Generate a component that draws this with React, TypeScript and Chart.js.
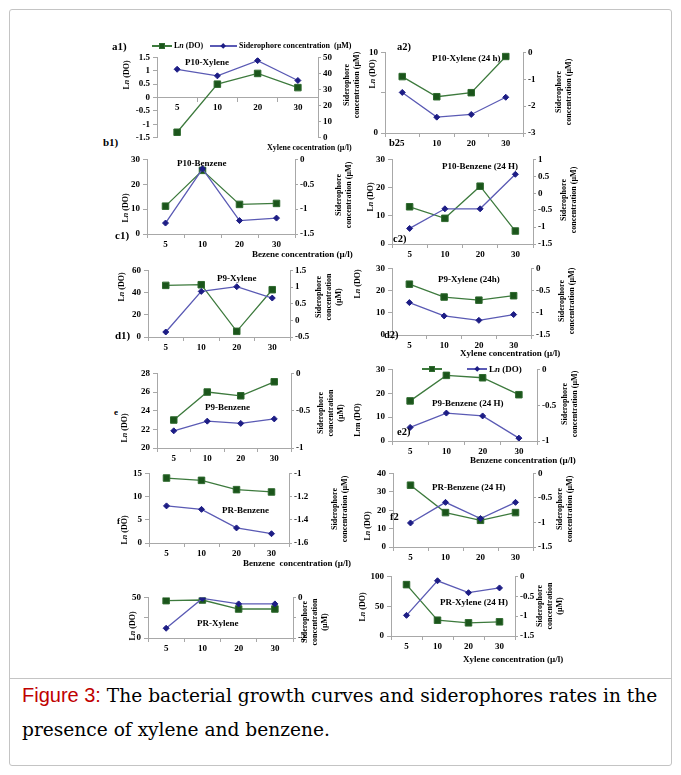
import React, { useEffect, useRef } from 'react';
import { Chart, registerables } from 'chart.js';
Chart.register(...registerables);

const SERIF = "'Liberation Serif', 'Times New Roman', serif";
const GREEN_LINE = '#3d7a3d';
const GREEN_PT = '#1b551b';
const BLUE_LINE = '#5a5ab4';
const BLUE_PT = '#1d1d85';
const AXIS = '#a8a8a8';

// categories (xylene / benzene concentration, µ/l)
const CONC = ['5', '10', '20', '30'];

// Ln (DO) series and siderophore concentration (µM) series per panel
const A1_LN = [-1.3, 0.5, 0.9, 0.37];
const A1_SID = [42.6, 38.5, 48, 35.6];
const A2_LN = [7.0, 4.5, 5.0, 9.5];
const A2_SID = [-1.49, -2.41, -2.31, -1.67];
const B1_LN = [11.2, 25.6, 11.9, 12.3];
const B1_SID = [-1.28, -0.19, -1.23, -1.18];
const B2_LN = [13.2, 9.1, 20.5, 4.6];
const B2_SID = [-1.04, -0.46, -0.46, 0.56];
const C1_LN = [46.5, 47.1, 5.1, 42.6];
const C1_SID = [-0.35, 0.87, 1.01, 0.67];
const C2_LN = [22.9, 17.1, 15.7, 17.7];
const C2_SID = [-0.77, -1.07, -1.17, -1.04];
const D1_LN = [23.0, 26.0, 25.6, 27.1];
const D1_SID = [-0.77, -0.64, -0.67, -0.61];
const D2_LN = [16.8, 27.5, 26.5, 19.4];
const D2_SID = [-0.81, -0.61, -0.65, -0.96];
const E1_LN = [14.0, 13.5, 11.5, 11.0];
const E1_SID = [-1.28, -1.31, -1.47, -1.52];
const E2_LN = [33.6, 18.7, 14.5, 18.7];
const E2_SID = [-1.01, -0.59, -0.92, -0.59];
const F1_LN = [46.0, 46.8, 35.7, 35.7];
const F1_SID = [-1.52, -0.05, -0.32, -0.32];
const F2_LN = [86.2, 26.5, 22.1, 23.8];
const F2_SID = [-0.98, -0.11, -0.41, -0.29];

type PanelCfg = {
  area: number[]; // plot area l, t, r, b (page px)
  y: number[]; // min, max, step (Ln DO axis)
  y1: number[]; // min, max, step (siderophore axis)
  yHide?: number[];
  y1Hide?: number[];
  ln: number[];
  sid: number[];
  zero?: boolean;
};

const PANELS: PanelCfg[] = [
  { area: [157, 57, 318, 138], y: [-1.5, 1.5, 0.5], y1: [0, 50, 10], ln: A1_LN, sid: A1_SID, zero: true },
  { area: [385, 52, 523, 133], y: [0, 10, 5], yHide: [5], y1: [-3, 0, 1], ln: A2_LN, sid: A2_SID },
  { area: [147, 159, 295, 234], y: [0, 30, 10], y1: [-1.5, 0, 0.5], ln: B1_LN, sid: B1_SID },
  { area: [392, 159, 533, 244], y: [0, 30, 10], y1: [-1.5, 1, 0.5], ln: B2_LN, sid: B2_SID },
  { area: [148, 270, 290, 337], y: [0, 60, 20], y1: [-0.5, 1.5, 0.5], ln: C1_LN, sid: C1_SID },
  { area: [392, 268, 531, 335], y: [0, 30, 10], y1: [-1.5, 0, 0.5], ln: C2_LN, sid: C2_SID },
  { area: [157, 373, 291, 448], y: [20, 28, 2], y1: [-1, 0, 0.5], ln: D1_LN, sid: D1_SID },
  { area: [392, 369, 537, 441], y: [0, 30, 10], y1: [-1, 0, 0.5], ln: D2_LN, sid: D2_SID },
  { area: [149, 473, 289, 543], y: [0, 15, 5], y1: [-1.6, -1, 0.2], ln: E1_LN, sid: E1_SID },
  { area: [393, 473, 533, 547], y: [0, 40, 10], y1: [-1.5, 0, 0.5], ln: E2_LN, sid: E2_SID },
  { area: [148, 597, 293, 638], y: [0, 50, 25], yHide: [25], y1: [-2, 0, 1], y1Hide: [-1], ln: F1_LN, sid: F1_SID },
  { area: [391, 576, 515, 636], y: [0, 100, 50], y1: [-1.5, 0, 0.5], ln: F2_LN, sid: F2_SID },
];

const YW = 36, Y1W = 36, PT = 8, PB = 8, XH = 22;

function fmt(v: number) {
  const r = Math.round(v * 100) / 100;
  return String(r);
}
function hidden(list: number[] | undefined, v: number) {
  return !!list && list.some((h) => Math.abs(h - v) < 1e-9);
}

function ChartPanel({ cfg }: { cfg: PanelCfg }) {
  const ref = useRef<HTMLCanvasElement>(null);
  const [l, t, r, b] = cfg.area;
  const w = r - l + YW + Y1W;
  const h = b - t + PT + (cfg.zero ? PB : XH);
  useEffect(() => {
    const font = { family: SERIF, size: 9, weight: 'bold' as const };
    const axisGrid = (len: number) => ({
      display: true,
      drawOnChartArea: false,
      drawTicks: true,
      tickLength: len,
      color: AXIS,
      lineWidth: 1,
    });
    const chart = new Chart(ref.current as HTMLCanvasElement, {
      type: 'line',
      data: {
        labels: CONC,
        datasets: [
          {
            label: 'Siderophore concentration (µM)',
            data: cfg.sid,
            yAxisID: 'y1',
            borderColor: BLUE_LINE,
            backgroundColor: BLUE_PT,
            pointBackgroundColor: BLUE_PT,
            pointBorderColor: BLUE_PT,
            pointStyle: 'rectRot',
            pointRadius: 3,
            pointBorderWidth: 1,
            borderWidth: 1.3,
            tension: 0,
          },
          {
            label: 'Ln (DO)',
            data: cfg.ln,
            yAxisID: 'y',
            borderColor: GREEN_LINE,
            backgroundColor: GREEN_PT,
            pointBackgroundColor: GREEN_PT,
            pointBorderColor: '#2f6a2f',
            pointStyle: 'rect',
            pointRadius: 4.6,
            pointBorderWidth: 1,
            borderWidth: 1.3,
            tension: 0,
          },
        ],
      },
      options: {
        animation: false,
        responsive: false,
        maintainAspectRatio: false,
        devicePixelRatio: 1,
        layout: { padding: { top: PT, left: 0, right: 0, bottom: cfg.zero ? PB : 0 } },
        plugins: { legend: { display: false }, tooltip: { enabled: false }, title: { display: false } },
        scales: {
          x: {
            type: 'category',
            offset: true,
            position: (cfg.zero ? { y: 0 } : 'bottom') as any,
            grid: { ...axisGrid(4), offset: true },
            border: { display: true, color: AXIS, width: 1 },
            ticks: { font, color: '#000', padding: 1, maxRotation: 0, autoSkip: false },
            afterFit: (s: any) => {
              s.height = XH;
            },
          },
          y: {
            type: 'linear',
            position: 'left',
            min: cfg.y[0],
            max: cfg.y[1],
            grid: axisGrid(4),
            border: { display: true, color: AXIS, width: 1 },
            ticks: {
              stepSize: cfg.y[2],
              autoSkip: false,
              font,
              color: '#000',
              padding: 3,
              callback: (v: any) => (hidden(cfg.yHide, Number(v)) ? '' : fmt(Number(v))),
            },
            afterFit: (s: any) => {
              s.width = YW;
            },
          },
          y1: {
            type: 'linear',
            position: 'right',
            min: cfg.y1[0],
            max: cfg.y1[1],
            grid: axisGrid(3),
            border: { display: true, color: AXIS, width: 1 },
            ticks: {
              stepSize: cfg.y1[2],
              autoSkip: false,
              font,
              color: '#000',
              padding: 2,
              callback: (v: any) => (hidden(cfg.y1Hide, Number(v)) ? '' : fmt(Number(v))),
            },
            afterFit: (s: any) => {
              s.width = Y1W;
            },
          },
        },
      } as any,
    });
    return () => chart.destroy();
  }, []);
  return (
    <canvas
      ref={ref}
      width={w}
      height={h}
      style={{ position: 'absolute', left: l - YW, top: t - PT, width: w, height: h }}
    />
  );
}

function T({ x, y, s = 8, rot = false, children, lh = 1.2 }: any) {
  const style: any = {
    position: 'absolute',
    left: x,
    top: y,
    fontFamily: SERIF,
    fontSize: s,
    fontWeight: 'bold',
    color: '#000',
    whiteSpace: 'nowrap',
    lineHeight: lh,
    textAlign: 'center',
    transform: rot ? 'translate(-50%, -50%) rotate(-90deg)' : 'translateY(-50%)',
  };
  return <div style={style}>{children}</div>;
}

const LnDO = () => (
  <>
    L<i>n</i> (DO)
  </>
);

function Sid2() {
  return (
    <>
      Siderophore
      <br />
      concentration (µM)
    </>
  );
}
function Sid3() {
  return (
    <>
      Siderophore
      <br />
      concentration
      <br />
      (µM)
    </>
  );
}

function LegLine({ x1, x2, y, color }: any) {
  return (
    <div style={{ position: 'absolute', left: x1, top: y - 0.7, width: x2 - x1, height: 1.4, background: color }} />
  );
}
function LegSquare({ x, y }: any) {
  return (
    <div
      style={{
        position: 'absolute',
        left: x - 3.3,
        top: y - 3.3,
        width: 6.6,
        height: 6.6,
        background: GREEN_PT,
        boxSizing: 'border-box',
        border: '1px solid #2f6a2f',
      }}
    />
  );
}
function LegDiamond({ x, y }: any) {
  return (
    <div
      style={{
        position: 'absolute',
        left: x - 2.2,
        top: y - 2.2,
        width: 4.4,
        height: 4.4,
        background: BLUE_PT,
        transform: 'rotate(45deg)',
      }}
    />
  );
}

export default function App() {
  return (
    <div style={{ position: 'absolute', left: 0, top: 0, width: 681, height: 775, background: '#fff', overflow: 'hidden' }}>
      <div
        style={{
          position: 'absolute',
          left: 9,
          top: 9,
          width: 663,
          height: 757,
          border: '1px solid #c4c4c4',
          borderRadius: 3,
          boxSizing: 'border-box',
        }}
      />
      <div style={{ position: 'absolute', left: 9, top: 678, width: 663, height: 1, background: '#c4c4c4' }} />

      {PANELS.map((p, i) => (
        <ChartPanel key={i} cfg={p} />
      ))}

      {/* legend of a1 */}
      <LegLine x1={152} x2={172} y={46} color={GREEN_LINE} />
      <LegSquare x={162} y={46} />
      <T x={174} y={46} s={8}>
        <LnDO />
      </T>
      <LegLine x1={210} x2={237} y={46} color={BLUE_LINE} />
      <LegDiamond x={223} y={46} />
      <T x={239} y={46} s={8}>
        Siderophore concentration&nbsp; (µM)
      </T>

      {/* legend of d2 */}
      <LegLine x1={422} x2={442} y={369} color={GREEN_LINE} />
      <LegSquare x={432} y={369} />
      <LegLine x1={467} x2={487} y={369} color={BLUE_LINE} />
      <LegDiamond x={477} y={369} />
      <T x={489} y={369} s={9}>
        <LnDO />
      </T>

      {/* panel letters */}
      <T x={112} y={47} s={11}>a1)</T>
      <T x={397} y={47} s={10.5}>a2)</T>
      <T x={103} y={143} s={11}>b1)</T>
      <T x={389} y={143} s={10.5}>b2</T>
      <T x={115} y={236} s={11}>c1)</T>
      <T x={393} y={239} s={10.5}>c2)</T>
      <T x={115} y={336} s={11}>d1)</T>
      <T x={384} y={335} s={10.5}>d2)</T>
      <T x={114} y={412} s={9}>e</T>
      <T x={397} y={432} s={10.5}>e2)</T>
      <T x={117} y={521} s={9}>f</T>
      <T x={390} y={517} s={10.5}>f2</T>

      {/* panel titles */}
      <T x={185} y={62} s={9}>P10-Xylene</T>
      <T x={432} y={58} s={9}>P10-Xylene (24 h)</T>
      <T x={177} y={163} s={9}>P10-Benzene</T>
      <T x={442} y={166} s={9}>P10-Benzene (24 H)</T>
      <T x={217} y={278} s={9}>P9-Xylene</T>
      <T x={438} y={279} s={9}>P9-Xylene (24h)</T>
      <T x={205} y={407} s={9}>P9-Benzene</T>
      <T x={432} y={403} s={9}>P9-Benzene (24 H)</T>
      <T x={222} y={510} s={9}>PR-Benzene</T>
      <T x={432} y={487} s={9}>PR-Benzene (24 H)</T>
      <T x={197} y={623} s={9}>PR-Xylene</T>
      <T x={440} y={602} s={9}>PR-Xylene (24 H)</T>

      {/* left axis titles */}
      <T x={127} y={75} rot s={8}><LnDO /></T>
      <T x={373} y={74} rot s={8}><LnDO /></T>
      <T x={126} y={208} rot s={8}><LnDO /></T>
      <T x={371} y={197} rot s={8}><LnDO /></T>
      <T x={122} y={287} rot s={8}><LnDO /></T>
      <T x={358} y={284} rot s={8}><LnDO /></T>
      <T x={125} y={428} rot s={8}><LnDO /></T>
      <T x={358} y={420} rot s={8}>
        L<i>n</i>n (DO)
      </T>
      <T x={125} y={530} rot s={8}><LnDO /></T>
      <T x={368} y={526} rot s={8}><LnDO /></T>
      <T x={133} y={626} rot s={8}><LnDO /></T>
      <T x={363} y={607} rot s={8}><LnDO /></T>

      {/* right axis titles */}
      <T x={352} y={85} rot s={8} lh={1.25}><Sid2 /></T>
      <T x={564} y={92} rot s={8} lh={1.25}><Sid2 /></T>
      <T x={344} y={195} rot s={8} lh={1.25}><Sid2 /></T>
      <T x={569} y={200} rot s={8} lh={1.25}><Sid2 /></T>
      <T x={329} y={297} rot s={8} lh={1.25}><Sid3 /></T>
      <T x={567} y={301} rot s={8} lh={1.25}><Sid2 /></T>
      <T x={331} y={413} rot s={8} lh={1.25}><Sid3 /></T>
      <T x={570} y={404} rot s={8} lh={1.25}><Sid2 /></T>
      <T x={340} y={509} rot s={8} lh={1.25}><Sid2 /></T>
      <T x={565} y={509} rot s={8} lh={1.25}><Sid2 /></T>
      <T x={315} y={622} rot s={8} lh={1.25}><Sid3 /></T>
      <T x={550} y={606} rot s={8} lh={1.25}><Sid3 /></T>

      {/* x axis titles */}
      <T x={267} y={148} s={8}>Xylene cocentration (µ/l)</T>
      <T x={252} y={254} s={9}>Bezene concentration (µ/l)</T>
      <T x={460} y={353} s={9}>Xylene concentration (µ/l)</T>
      <T x={470} y={460} s={9}>Benzene concentration (µ/l)</T>
      <T x={243} y={563} s={9}>Benzene&nbsp; concentration (µ/l)</T>
      <T x={463} y={659} s={9}>Xylene concentration (µ/l)</T>

      {/* caption */}
      <div
        style={{
          position: 'absolute',
          left: 22,
          top: 678,
          fontFamily: "'DejaVu Serif', serif",
          fontSize: 18.6,
          lineHeight: '34px',
          color: '#000',
          whiteSpace: 'nowrap',
        }}
      >
        <span style={{ color: '#c00000', fontFamily: "'Liberation Sans', sans-serif", fontSize: 20 }}>Figure 3:</span>{' '}
        The bacterial growth curves and siderophores rates in the
        <br />
        presence of xylene and benzene.
      </div>
    </div>
  );
}
